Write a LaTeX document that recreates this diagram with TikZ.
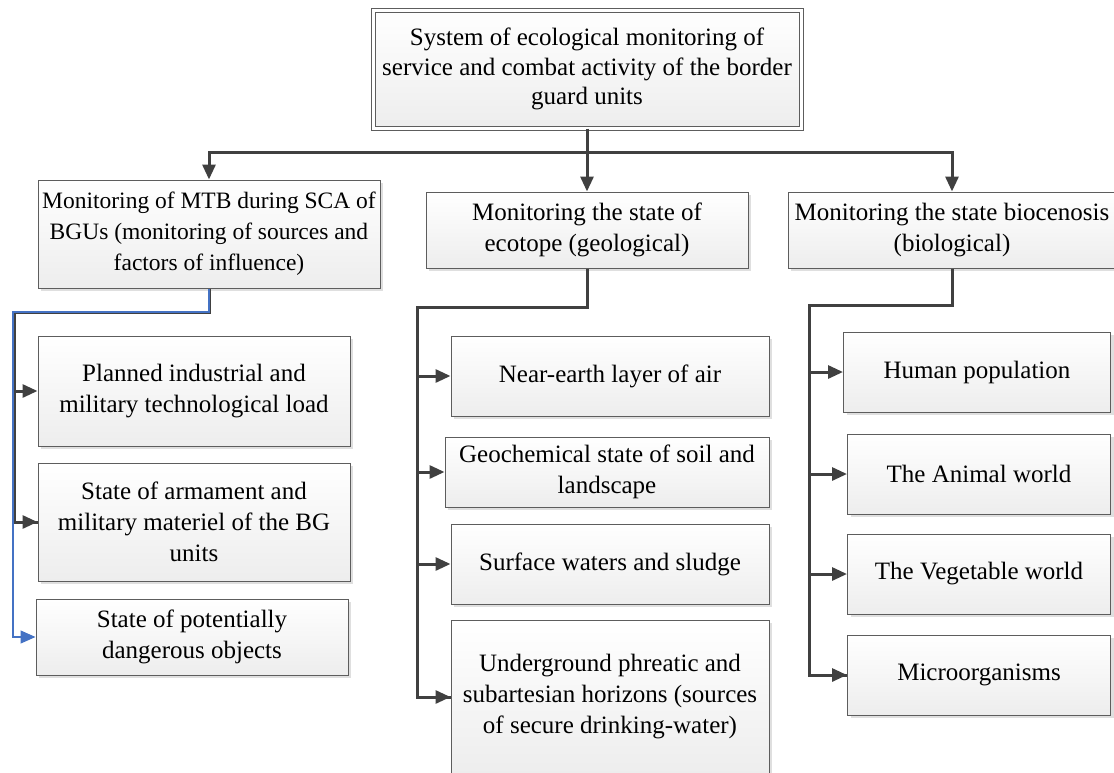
\documentclass[tikz,border=0pt]{standalone}
\usepackage{fontspec}
\setmainfont{Liberation Serif}
\usetikzlibrary{arrows.meta,shadows}
\definecolor{lnk}{RGB}{64,64,64}
\definecolor{bluelnk}{RGB}{68,114,196}
\tikzset{
  blk/.style = {align=center, inner sep=0pt, draw=lnk!85, line width=1pt,
    top color=white, bottom color=gray!14,
    drop shadow={shadow xshift=3pt, shadow yshift=-3pt, fill=gray!25, opacity=1},
    font=\fontsize{25}{31}\selectfont},
  blk_top/.style = {blk, double=white, double distance=3pt,
    font=\fontsize{25}{29.5}\selectfont},
  lnk/.style = {draw=lnk, line width=3pt, -{Triangle[length=15pt,width=13pt]}},
  lnk_b/.style = {draw=bluelnk, line width=1.2pt, -{Triangle[length=15pt,width=13pt]}}}

\begin{document}
\begin{tikzpicture}[x=1pt, y=-1pt]
\useasboundingbox (0,0) rectangle (1114,772);

\node [blk_top, minimum width=428pt, minimum height=118pt] (sys) at (587,69)
  {System of ecological monitoring of\\service and combat activity of the border\\guard units};

% second level
\node [blk, minimum width=342pt, minimum height=108pt,
  font=\fontsize{23.5}{31}\selectfont] (mtb) at (209,234)
  {Monitoring of MTB during SCA of\\BGUs (monitoring of sources and\\factors of influence)};
\node [blk, minimum width=322pt, minimum height=76pt] (eco) at (587,230)
  {Monitoring the state of\\ecotope (geological)};
\node [blk, minimum width=328pt, minimum height=76pt] (bio) at (952,230)
  {Monitoring the state biocenosis\\(biological)};

% left column
\node [blk, minimum width=312pt, minimum height=110pt] (load) at (194,391)
  {Planned industrial and\\military technological load};
\node [blk, minimum width=312pt, minimum height=118pt] (arm) at (194,522)
  {State of armament and\\military materiel of the BG\\units};
\node [blk, minimum width=312pt, minimum height=76pt] (obj) at (192,637)
  {State of potentially\\dangerous objects};

% middle column
\node [blk, minimum width=318pt, minimum height=80pt] (air) at (610,376)
  {Near-earth layer of air};
\node [blk, minimum width=324pt, minimum height=70pt] (soil) at (607,472)
  {Geochemical state of soil and\\landscape};
\node [blk, minimum width=318pt, minimum height=80pt] (water) at (610,564)
  {Surface waters and sludge};
\node [blk, minimum width=318pt, minimum height=154pt] (undr) at (610,697)
  {Underground phreatic and\\subartesian horizons (sources\\of secure drinking-water)};

% right column
\node [blk, minimum width=267pt, minimum height=80pt] (hum) at (977,372)
  {Human population};
\node [blk, minimum width=263pt, minimum height=80pt] (anim) at (979,474)
  {The Animal world};
\node [blk, minimum width=263pt, minimum height=80pt] (veg) at (979,574)
  {The Vegetable world};
\node [blk, minimum width=263pt, minimum height=80pt] (micro) at (979,675)
  {Microorganisms};

\coordinate (bus) at (587,152);
\draw [lnk] (sys.south) -- (eco.north);
\draw [lnk] (bus) -| (mtb.north);
\draw [lnk] (bus) -| (bio.north);

\coordinate (lft) at (14,312);
\draw [lnk, -] (mtb.south) |- (lft) |- (arm.west);
\draw [lnk] (lft) |- (load.west);
\draw [lnk] (lft) |- (arm.west);
\draw [lnk_b] (mtb.south) |- (13,312) |- (obj.west);

\coordinate (mid) at (417,307);
\draw [lnk, -] (eco.south) |- (mid) |- (undr.west);
\foreach \n in {air,soil,water,undr}
  \draw [lnk] (mid) |- (\n.west);

\coordinate (rgt) at (809,305);
\draw [lnk, -] (bio.south) |- (rgt) |- (micro.west);
\foreach \n in {hum,anim,veg,micro}
  \draw [lnk] (rgt) |- (\n.west);
\end{tikzpicture}
\end{document}
